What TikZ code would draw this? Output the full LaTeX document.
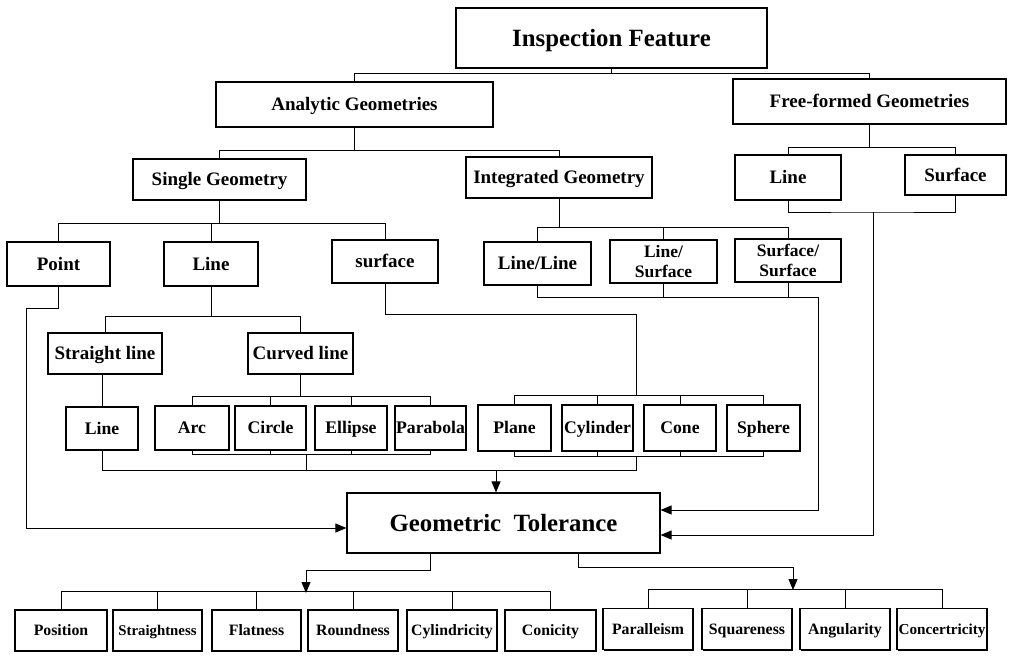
\documentclass[tikz,border=0pt]{standalone}
\usepackage{fontspec}
\setmainfont{Liberation Serif}
\usetikzlibrary{arrows.meta,shadows}
\tikzset{
  box/.style={draw, line width=1.2pt, fill=white, inner sep=0pt, align=center,
    drop shadow={opacity=1, fill=black, shadow xshift=1.3pt, shadow yshift=-1.3pt}},
  capbox/.style={text height=#1, text depth=0pt},
  fbig/.style={capbox=16.4pt, font=\fontsize{24.8}{26}\selectfont\bfseries},
  fmid/.style={capbox=12.6pt, font=\fontsize{19}{21}\selectfont\bfseries},
  fsm/.style={capbox=11.6pt, font=\fontsize{17.7}{19}\selectfont\bfseries},
  ftwo/.style={font=\fontsize{17.5}{19.5}\selectfont\bfseries},
  fbot/.style={capbox=10.4pt, font=\fontsize{15.8}{17}\selectfont\bfseries},
  conn/.style={line width=1pt},
  arr/.style={line width=1pt, -{Triangle[length=11pt,width=9pt]}},
}
\begin{document}
\begin{tikzpicture}[x=1pt,y=-1pt]
\useasboundingbox (0,0) rectangle (1010,656);
% top levels
\node[box,fbig,minimum width=311pt,minimum height=60pt] (ins) at (611.5,38) {Inspection Feature};
\node[box,fmid,minimum width=277pt,minimum height=45pt] (ana) at (354.5,104.5) {Analytic Geometries};
\node[box,fmid,minimum width=273pt,minimum height=45pt] (ffg) at (869.5,101.5) {Free-formed Geometries};
\node[box,fmid,minimum width=173pt,minimum height=41pt] (sg) at (219.5,179.5) {Single Geometry};
\node[box,fmid,minimum width=186pt,minimum height=41pt] (ig) at (559,177.5) {Integrated Geometry};
\node[box,fmid,minimum width=106pt,minimum height=45pt] (ffl) at (788,177.5) {Line};
\node[box,fmid,minimum width=101pt,minimum height=40pt] (ffs) at (955.5,175) {Surface};
% single geometry children
\node[box,fmid,minimum width=103pt,minimum height=44pt] (pt) at (58.5,264) {Point};
\node[box,fmid,minimum width=94pt,minimum height=44pt] (sl) at (211,264) {Line};
\node[box,fmid,minimum width=106pt,minimum height=43pt] (sf) at (385,261.5) {surface};
% integrated children
\node[box,fmid,minimum width=107pt,minimum height=43pt] (ll) at (537.5,263.5) {Line/Line};
\node[box,ftwo,minimum width=107pt,minimum height=43pt] (ls) at (663.5,261.5) {Line/\\Surface};
\node[box,ftwo,minimum width=106pt,minimum height=43pt] (ss) at (788,260.5) {Surface/\\Surface};
% line children
\node[box,fmid,minimum width=114pt,minimum height=41pt] (stl) at (105,353.5) {Straight line};
\node[box,fmid,minimum width=105pt,minimum height=41pt] (cl) at (300.5,353.5) {Curved line};
% leaves
\node[box,fsm,minimum width=72pt,minimum height=43pt] (ln2) at (102,428.5) {Line};
\node[box,fsm,minimum width=74pt,minimum height=44pt] (arc) at (192,428) {Arc};
\node[box,fsm,minimum width=71pt,minimum height=44pt] (cir) at (270.5,428) {Circle};
\node[box,fsm,minimum width=72pt,minimum height=44pt] (ell) at (351,428) {Ellipse};
\node[box,fsm,minimum width=71pt,minimum height=44pt] (par) at (430.5,428) {Parabola};
\node[box,fsm,minimum width=73pt,minimum height=46pt] (pla) at (514.5,428) {Plane};
\node[box,fsm,minimum width=71pt,minimum height=46pt] (cyl) at (597.5,428) {Cylinder};
\node[box,fsm,minimum width=72pt,minimum height=46pt] (cne) at (680,428) {Cone};
\node[box,fsm,minimum width=73pt,minimum height=46pt] (sph) at (763.5,428) {Sphere};
% geometric tolerance
\node[box,fbig,minimum width=313pt,minimum height=60pt] (gt) at (503.5,523) {Geometric\ \ Tolerance};
% bottom row
\node[box,fbot,minimum width=92pt,minimum height=41pt] (pos) at (61,630.5) {Position};
\node[box,fbot,minimum width=89pt,minimum height=41pt,font=\fontsize{14.8}{16}\selectfont\bfseries] (str) at (157.5,630.5) {Straightness};
\node[box,fbot,minimum width=89pt,minimum height=41pt] (fla) at (256.5,630.5) {Flatness};
\node[box,fbot,minimum width=90pt,minimum height=41pt] (rou) at (353,630.5) {Roundness};
\node[box,fbot,minimum width=90pt,minimum height=41pt] (cyi) at (452,630.5) {Cylindricity};
\node[box,fbot,minimum width=91pt,minimum height=41pt] (coni) at (550.5,630.5) {Conicity};
\node[box,fbot,minimum width=90pt,minimum height=41pt] (para) at (648,629) {Paralleism};
\node[box,fbot,minimum width=90pt,minimum height=41pt] (squ) at (747,629) {Squareness};
\node[box,fbot,minimum width=90pt,minimum height=41pt] (ang) at (845,629) {Angularity};
\node[box,fbot,minimum width=90pt,minimum height=41pt,font=\fontsize{15.2}{17}\selectfont\bfseries] (conc) at (942,629) {Concertricity};

% junction coordinates
\coordinate (ffj) at (873,212);
\coordinate (ptj) at (26,308);
\coordinate (sfj) at (636,314);
\coordinate (pbj) at (636,456);
\coordinate (cbj) at (306,454);
\coordinate (mj) at (496,470);
\coordinate (ssj) at (818,297);
\coordinate (lbj) at (306,593);
\coordinate (rbj) at (793,590);

% connectors top
\draw[conn] (ins.south) -- ++(0,5) -| (ana.north);
\draw[conn] (ins.south) -- ++(0,5) -| (ffg.north);
\draw[conn] (ana.south) -- ++(0,23) -| (sg.north);
\draw[conn] (ana.south) -- ++(0,23) -| (ig.north);
\draw[conn] (ffg.south) -- ++(0,23) -| (ffl.north);
\draw[conn] (ffg.south) -- ++(0,23) -| (ffs.north);
\draw[conn] (ffl.south) |- (ffj) -| (ffs.south);
\draw[arr] (ffj) |- ([yshift=-12pt]gt.east);
% single geometry
\draw[conn] (sg.south) -- ++(0,23) -| (pt.north);
\draw[conn] (sg.south) -- ++(0,23) -| (sl.north);
\draw[conn] (sg.south) -- ++(0,23) -| (sf.north);
\draw[arr] (pt.south) |- (ptj) |- ([yshift=-5pt]gt.west);
\draw[conn] (sl.south) -- ++(0,30) -| (stl.north);
\draw[conn] (sl.south) -- ++(0,30) -| (cl.north);
\draw[conn] (sf.south) -- ++(0,31) -| (sfj);
\draw[conn] (sfj) -- (sfj |- 0,396);
% integrated
\draw[conn] (ig.south) -- ++(0,29) -| (ll.north);
\draw[conn] (ig.south) -- ++(0,29) -| (ls.north);
\draw[conn] (ig.south) -- ++(0,29) -| (ss.north);
\draw[conn] (ll.south) |- (ssj);
\draw[conn] (ls.south) -- (ls.south |- ssj);
\draw[conn] (ss.south) -- (ss.south |- ssj);
\draw[arr] (ssj) |- ([yshift=13pt]gt.east);
% straight / curved
\draw[conn] (ln2.north) -- (ln2.north |- stl.south);
\draw[conn] (cl.south) -- ++(0,22);
\draw[conn] (arc.north) -- ++(0,-9) -| (par.north);
\draw[conn] (cir.north) -- ++(0,-9);
\draw[conn] (ell.north) -- ++(0,-9);
\draw[conn] (arc.south) -- ++(0,4) -| (par.south);
\draw[conn] (cir.south) -- ++(0,4);
\draw[conn] (ell.south) -- ++(0,4);
% surface children
\draw[conn] (pla.north) -- ++(0,-9) -| (sph.north);
\draw[conn] (cyl.north) -- ++(0,-9);
\draw[conn] (cne.north) -- ++(0,-9);
\draw[conn] (pla.south) -- ++(0,5) -| (sph.south);
\draw[conn] (cyl.south) -- ++(0,5);
\draw[conn] (cne.south) -- ++(0,5);
% merge to tolerance
\draw[conn] (ln2.south) |- (mj);
\draw[conn] (cbj) -- (cbj |- mj);
\draw[conn] (pbj) |- (mj);
\draw[arr] (mj) -- (mj |- gt.north);
% tolerance to bottom row
\draw[arr] ([xshift=-73.5pt]gt.south) -- ++(0,17) -| (lbj);
\draw[arr] ([xshift=74.5pt]gt.south) -- ++(0,14) -| (rbj);
\draw[conn] (pos.north) -- ++(0,-18) -| (coni.north);
\draw[conn] (str.north) -- ++(0,-18);
\draw[conn] (fla.north) -- ++(0,-18);
\draw[conn] (rou.north) -- ++(0,-18);
\draw[conn] (cyi.north) -- ++(0,-18);
\draw[conn] (para.north) -- ++(0,-18.5) -| (conc.north);
\draw[conn] (squ.north) -- ++(0,-18.5);
\draw[conn] (ang.north) -- ++(0,-18.5);
\end{tikzpicture}
\end{document}
